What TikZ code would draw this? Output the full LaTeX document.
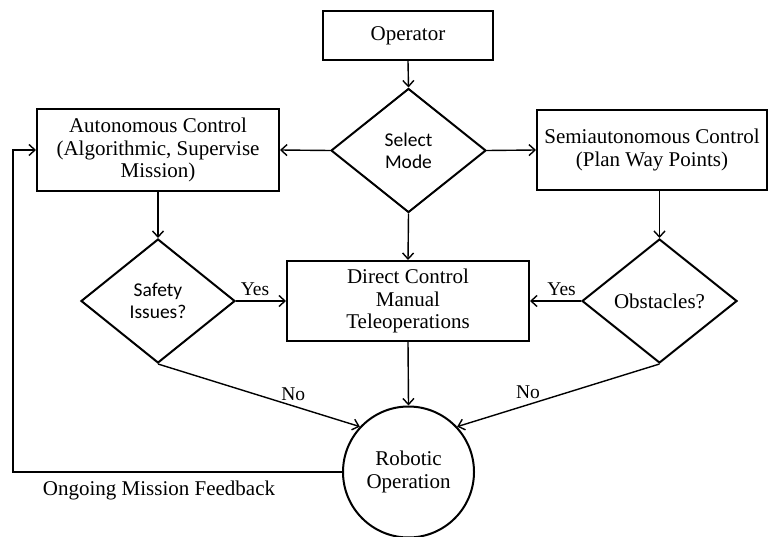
\documentclass[tikz,border=0pt]{standalone}
\usepackage{fontspec}
\setmainfont{Liberation Serif}
\newfontfamily\calib{Carlito}
\usetikzlibrary{shapes.geometric,arrows.meta}
\begin{document}
\begin{tikzpicture}[x=1pt,y=-1pt,
  box/.style={draw, line width=2pt, align=center, inner sep=0pt, font=\fontsize{21}{22.5}\selectfont},
  dia/.style={draw, diamond, line width=2pt, align=center, inner sep=0pt, minimum width=155pt, minimum height=124pt},
  sans/.style={font=\calib\fontsize{19.5}{22}\selectfont},
  serif/.style={font=\fontsize{21}{22.5}\selectfont},
  arr/.style={line width=1.4pt, -{Straight Barb[length=6pt,width=11pt,line width=1.4pt]}},
  lab/.style={font=\fontsize{19.5}{20}\selectfont, inner sep=0pt}]
\useasboundingbox (0,0) rectangle (770,537);

\node[box, minimum width=170pt, minimum height=49pt] (op) at (408,35.5) {Operator};
\node[dia, sans] (sel) at (408.5,150.5) {Select\\Mode};
\node[box, minimum width=242pt, minimum height=82pt] (auto) at (158,150) {Autonomous Control\\(Algorithmic, Supervise\\Mission)};
\node[box, minimum width=230pt, minimum height=80pt] (semi) at (652,150) {Semiautonomous Control\\(Plan Way Points)};
\node[box, minimum width=242pt, minimum height=80pt] (direct) at (408,301) {Direct Control\\Manual\\Teleoperations};
\node[dia, sans, minimum width=154pt] (safe) at (158,301) {Safety\\Issues?};
\node[dia, serif] (obs) at (659.5,301) {Obstacles?};
\node[draw, circle, line width=2pt, minimum size=131pt, inner sep=0pt, align=center, font=\fontsize{21}{22.5}\selectfont] (robot) at (408.5,472) {Robotic\\Operation};
\coordinate (fb) at (13,472);

\draw[arr] (op.south) -- (sel.north);
\draw[arr] (sel.west) -- (auto.east);
\draw[arr] (sel.east) -- (semi.west);
\draw[arr] (sel.south) -- (direct.north);
\draw[arr] (auto.south) -- (safe.north);
\draw[arr] (obs.north |- semi.south) -- (obs.north);
\draw[arr] (safe.east) -- node[pos=0.38, above=5pt, lab] {Yes} (direct.west);
\draw[arr] (obs.west) -- node[pos=0.38, above=5pt, lab] {Yes} (direct.east);
\draw[arr] (safe.south) -- node[pos=0.67, above=5pt, lab] {No} (robot.137);
\draw[arr] (obs.south) -- node[pos=0.65, above=5pt, lab] {No} (robot.43);
\draw[arr] (direct.south) -- (robot.north);
\draw[arr] (robot.west) -- (fb) |- (auto.west);
\node[serif, inner sep=0pt] (fbl) at (159,490) {Ongoing Mission Feedback};
\end{tikzpicture}
\end{document}
